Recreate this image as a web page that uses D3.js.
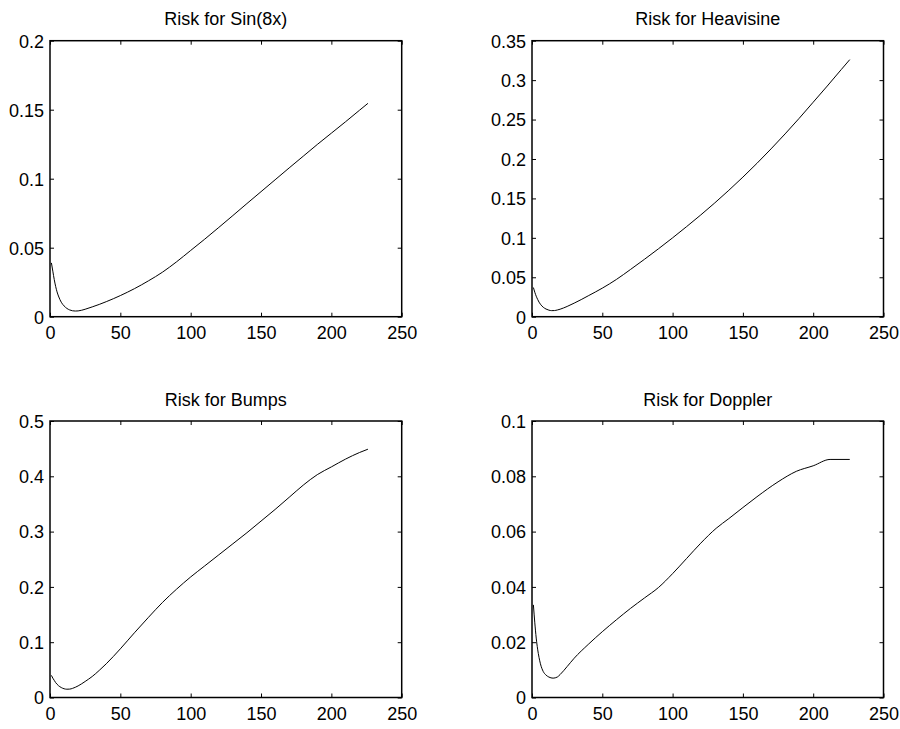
<!DOCTYPE html>
<html>
<head>
<meta charset="utf-8">
<script src="https://cdn.jsdelivr.net/npm/d3@7/dist/d3.min.js"></script>
<style>
  html, body { margin: 0; padding: 0; background: #fff; }
  svg { display: block; }
  text { font-family: "Liberation Sans", Arial, Helvetica, sans-serif; fill: #000; }
</style>
</head>
<body>
<svg id="chart" width="900" height="729"></svg>
<script>
// ---------- data ----------
const titles = ["Risk for Sin(8x)", "Risk for Heavisine", "Risk for Bumps", "Risk for Doppler"];
const xTicks = [0, 50, 100, 150, 200, 250];

const sinX = [1,2,3,4,5,6,8,10,12,14,16,18,20,25,30,35,40,50,60,70,80,90,100,110,120,130,140,150,160,170,180,190,200,210,220,226];
const sinY = [0.039,0.033,0.027,0.022,0.018,0.015,0.0105,0.0078,0.006,0.0049,0.0043,0.0041,0.0042,0.0054,0.0071,0.0089,0.0109,0.0153,0.0203,0.026,0.0323,0.0398,0.048,0.0562,0.0647,0.0733,0.082,0.0906,0.0992,0.1078,0.1163,0.1248,0.133,0.1412,0.1496,0.1546];
const sinTicks = [0, 0.05, 0.1, 0.15, 0.2];

const heaviX = [1,2,3,4,5,6,8,10,12,14,16,18,20,25,30,35,40,50,60,70,80,90,100,110,120,130,140,150,160,170,180,190,200,210,220,226];
const heaviY = [0.037,0.031,0.026,0.022,0.0185,0.0158,0.012,0.0097,0.0083,0.0077,0.0078,0.0085,0.0095,0.013,0.0172,0.0217,0.0265,0.0362,0.0472,0.0598,0.0728,0.0862,0.100,0.1143,0.129,0.1443,0.1603,0.177,0.1945,0.2128,0.2318,0.2515,0.272,0.2925,0.3135,0.326];
const heaviTicks = [0, 0.05, 0.1, 0.15, 0.2, 0.25, 0.3, 0.35];

const bumpsX = [1,2,3,4,5,6,8,10,12,14,16,18,20,25,30,35,40,50,60,70,80,90,100,110,120,130,140,150,160,170,180,190,200,210,220,226];
const bumpsY = [0.040,0.035,0.031,0.027,0.024,0.0215,0.018,0.0158,0.015,0.0152,0.0165,0.0185,0.021,0.029,0.038,0.049,0.061,0.088,0.117,0.145,0.172,0.196,0.218,0.238,0.258,0.278,0.298,0.319,0.340,0.362,0.384,0.403,0.417,0.431,0.443,0.449];
const bumpsTicks = [0, 0.1, 0.2, 0.3, 0.4, 0.5];

const dopX = [1,2,3,4,5,6,8,10,12,15,18,20,25,30,40,50,60,70,80,90,100,110,120,131,140,150,160,175,188,200,212,226];
const dopY = [0.0335,0.027,0.0215,0.0175,0.0145,0.0122,0.0094,0.0081,0.0074,0.007,0.0074,0.0083,0.0112,0.0142,0.0192,0.0238,0.0281,0.0322,0.036,0.0398,0.0448,0.0503,0.0558,0.0612,0.0647,0.0687,0.0726,0.078,0.0818,0.0838,0.0861,0.0861];
const dopTicks = [0, 0.02, 0.04, 0.06, 0.08, 0.1];

const seriesX = [sinX, heaviX, bumpsX, dopX];
const seriesY = [sinY, heaviY, bumpsY, dopY];
const yTicksAll = [sinTicks, heaviTicks, bumpsTicks, dopTicks];

// ---------- layout ----------
const panels = [
  { left: 50,  top: 40.7, w: 351.7, h: 276 },
  { left: 532, top: 40.7, w: 351.5, h: 276 },
  { left: 50,  top: 421,  w: 351.7, h: 276.5 },
  { left: 532, top: 421,  w: 351.5, h: 276.5 }
];
const fontSize = 18;
const tickLen = 4;

const svg = d3.select("#chart");
const fmt = v => String(+v.toFixed(4));

panels.forEach((p, i) => {
  const g = svg.append("g").attr("transform", `translate(${p.left},${p.top})`);
  const yt = yTicksAll[i];
  const x = d3.scaleLinear().domain([0, 250]).range([0, p.w]);
  const y = d3.scaleLinear().domain([0, yt[yt.length - 1]]).range([p.h, 0]);

  const xb = g.append("g").attr("transform", `translate(0,${p.h})`)
    .call(d3.axisBottom(x).tickValues(xTicks).tickFormat(fmt).tickSizeInner(-tickLen).tickSizeOuter(0).tickPadding(10));
  const xtop = g.append("g")
    .call(d3.axisTop(x).tickValues(xTicks).tickFormat("").tickSizeInner(-tickLen).tickSizeOuter(0));
  const yl = g.append("g")
    .call(d3.axisLeft(y).tickValues(yt).tickFormat(fmt).tickSizeInner(-tickLen).tickSizeOuter(0).tickPadding(10));
  const yr = g.append("g").attr("transform", `translate(${p.w},0)`)
    .call(d3.axisRight(y).tickValues(yt).tickFormat("").tickSizeInner(-tickLen).tickSizeOuter(0));

  [xb, xtop, yl, yr].forEach(a => {
    a.select(".domain").remove();
    a.selectAll(".tick line").attr("stroke", "#000").attr("stroke-width", 1);
    a.selectAll("text").attr("font-size", fontSize).attr("fill", "#000")
      .style("font-family", '"Liberation Sans", Arial, sans-serif');
  });
  xb.selectAll("text").attr("dy", "0.71em").attr("y", 10);
  yl.selectAll("text").attr("x", -6).attr("dy", "0.35em");

  g.append("rect")
    .attr("x", 0).attr("y", 0).attr("width", p.w).attr("height", p.h)
    .attr("fill", "none").attr("stroke", "#000").attr("stroke-width", 1.5);

  const pts = seriesX[i].map((xv, k) => [xv, seriesY[i][k]]);
  const line = d3.line().x(d => x(d[0])).y(d => y(d[1])).curve(d3.curveMonotoneX);
  g.append("path").datum(pts)
    .attr("d", line).attr("fill", "none").attr("stroke", "#000").attr("stroke-width", 1);

  g.append("text")
    .attr("x", p.w / 2).attr("y", -15.5)
    .attr("text-anchor", "middle").attr("font-size", fontSize)
    .text(titles[i]);
});
</script>
</body>
</html>
